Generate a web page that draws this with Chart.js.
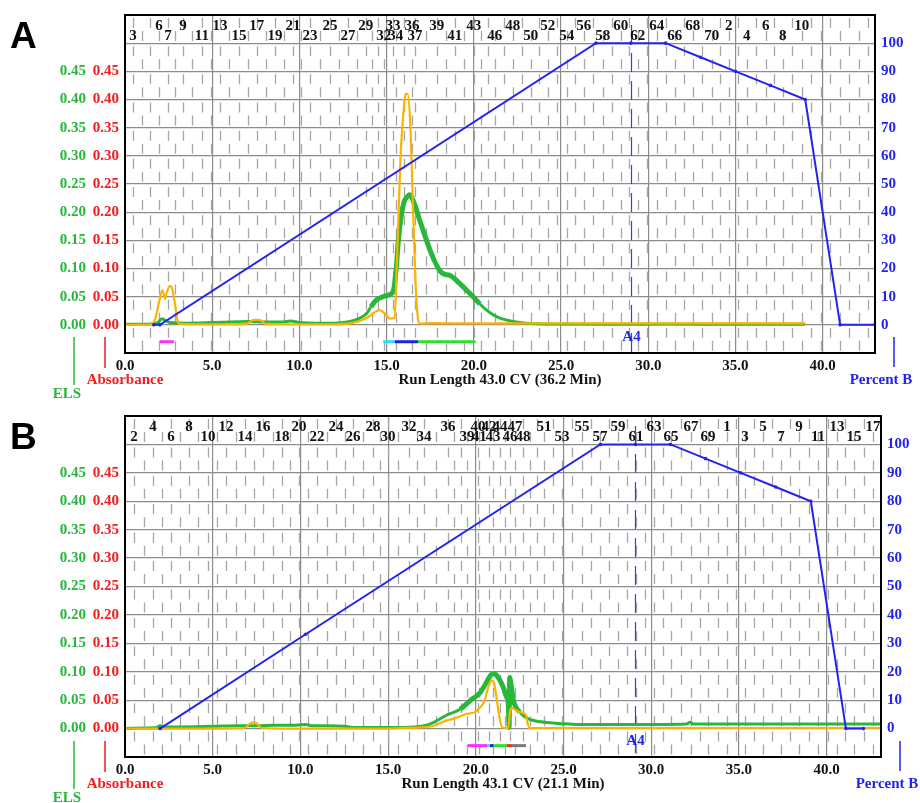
<!DOCTYPE html>
<html>
<head>
<meta charset="utf-8">
<script src="https://cdn.jsdelivr.net/npm/chart.js@4.4.0/dist/chart.umd.min.js"></script>
<style>
  html, body { margin: 0; padding: 0; background: #fff; }
  canvas { display: block; }
</style>
</head>
<body>
<canvas id="chartA" width="920" height="401"></canvas>
<canvas id="chartB" width="920" height="402"></canvas>
<script>
// ---- Panel A : run length 43.0 CV ----
const elsA_cv = [0, 1.0, 1.6, 1.9, 2.1, 2.3, 2.6, 3.5, 5.0, 6.0, 7.0, 8.0, 9.0, 9.5, 10.0, 11.0, 12.0, 12.9, 13.4, 13.85,
  14.1, 14.4, 14.8, 15.2, 15.4, 15.55, 15.67, 15.85, 16.0, 16.14, 16.33, 16.6, 16.85, 17.1, 17.57, 18.05, 18.3, 18.62,
  19.2, 19.6, 19.96, 20.35, 20.73, 21.1, 21.5, 22.25, 23.0, 25.0, 28.0, 31.0, 35.0, 39.0];
const elsA_v = [0.001, 0.001, 0.002, 0.004, 0.011, 0.008, 0.004, 0.003, 0.004, 0.005, 0.006, 0.005, 0.005, 0.007, 0.004,
  0.003, 0.003, 0.006, 0.011, 0.02, 0.032, 0.044, 0.05, 0.054, 0.062, 0.1, 0.149, 0.196, 0.218, 0.226, 0.231, 0.214,
  0.19, 0.167, 0.126, 0.096, 0.09, 0.088, 0.073, 0.061, 0.05, 0.037, 0.026, 0.018, 0.012, 0.006, 0.003, 0.0015, 0.001,
  0.0015, 0.001, 0.001];
const absA_cv = [0, 1.0, 1.5, 1.75, 1.95, 2.14, 2.22, 2.29, 2.4, 2.58, 2.7, 2.85, 3.0, 3.1, 4.0, 6.0, 7.0, 7.3, 7.5, 7.8,
  8.0, 9.0, 12.0, 13.0, 13.85, 14.3, 14.6, 14.9, 15.2, 15.45, 15.6, 15.8, 15.95, 16.1, 16.2, 16.35, 16.5, 16.65, 16.8,
  16.9, 17.5, 20.0, 25.0, 30.0, 35.0, 39.0];
const absA_v = [0, 0, 0.001, 0.012, 0.04, 0.061, 0.055, 0.046, 0.058, 0.069, 0.064, 0.04, 0.01, 0.002, 0.001, 0.001, 0.002,
  0.008, 0.009, 0.008, 0.002, 0.001, 0.001, 0.003, 0.012, 0.022, 0.026, 0.02, 0.011, 0.012, 0.12, 0.30, 0.372, 0.41, 0.41,
  0.36, 0.22, 0.08, 0.01, 0.002, 0.003, 0.0025, 0.0025, 0.0025, 0.0025, 0.0025];
const gradA_cv = [1.65, 2.0, 27.0, 29.0, 31.0, 33.0, 35.0, 37.0, 39.0, 41.0, 43.0];
const gradA_pct = [0, 0, 100, 100, 100, 95, 90, 85, 80, 0, 0];
const fracA_num = [3, 6, 7, 9, 11, 13, 15, 17, 19, 21, 23, 25, 27, 29, 32, 33, 34, 36, 37, 39, 41, 43, 46, 48, 50, 52,
  54, 56, 58, 60, 62, 64, 66, 68, 70, 2, 4, 6, 8, 10];
const fracA_cv = [0.46, 1.95, 2.46, 3.32, 4.41, 5.44, 6.53, 7.56, 8.60, 9.63, 10.60, 11.75, 12.78, 13.81, 14.84, 15.36,
  15.53, 16.45, 16.62, 17.88, 18.91, 20.0, 21.2, 22.23, 23.27, 24.24, 25.33, 26.30, 27.39, 28.42, 29.40, 30.49, 31.52,
  32.55, 33.64, 34.61, 35.64, 36.73, 37.71, 38.80];
const poolA_from = [2.0, 14.8, 15.45, 16.8];
const poolA_to = [2.8, 15.45, 16.8, 20.1];

// ---- Panel B : run length 43.1 CV ----
const elsB_cv = [0, 1.0, 1.8, 2.0, 2.2, 3.0, 5.0, 6.5, 7.5, 8.5, 9.5, 10.3, 10.7, 11.5, 12.5, 13.0, 15.0, 16.5, 17.2,
  17.6, 18.3, 19.1, 19.67, 20.24, 20.6, 20.85, 21.0, 21.28, 21.57, 21.76, 21.85, 21.9, 21.93, 21.97, 22.15, 22.5, 23.0,
  23.7, 24.8, 25.9, 28.6, 32.0, 32.2, 32.4, 35.0, 38.1, 43.1];
const elsB_v = [0, 0.001, 0.002, 0.005, 0.003, 0.003, 0.004, 0.005, 0.005, 0.006, 0.006, 0.007, 0.005, 0.005, 0.004,
  0.002, 0.002, 0.003, 0.006, 0.011, 0.023, 0.034, 0.049, 0.063, 0.081, 0.094, 0.097, 0.09, 0.072, 0.055, 0.045, 0.002,
  0.09, 0.085, 0.049, 0.029, 0.017, 0.012, 0.009, 0.007, 0.007, 0.008, 0.011, 0.008, 0.008, 0.008, 0.008];
const absB_cv = [0, 2.0, 5.0, 6.8, 7.1, 7.3, 7.55, 7.8, 10.0, 15.0, 15.7, 16.8, 17.6, 18.3, 18.7, 19.5, 19.95, 20.24,
  20.5, 20.7, 20.9, 21.04, 21.2, 21.35, 21.5, 21.85, 21.95, 22.05, 22.2, 22.5, 22.85, 22.95, 23.05, 25.0, 30.0, 35.0, 43.1];
const absB_v = [0, 0, 0, 0.001, 0.008, 0.011, 0.008, 0.001, 0, 0, 0.001, 0.002, 0.005, 0.014, 0.017, 0.026, 0.029, 0.037,
  0.049, 0.072, 0.085, 0.08, 0.05, 0.02, 0.002, 0.001, 0.03, 0.036, 0.034, 0.029, 0.024, 0.01, 0.001, 0.001, 0.001, 0.001,
  0.001];
const gradB_cv = [2.0, 10.3, 27.1, 29.1, 31.1, 33.1, 35.1, 37.1, 39.1, 41.1, 42.1];
const gradB_pct = [0, 33.2, 100, 100, 100, 95, 90, 85, 80, 0, 0];
const fracB_num = [2, 4, 6, 8, 10, 12, 14, 16, 18, 20, 22, 24, 26, 28, 30, 32, 34, 36, 39, 40, 41, 42, 43, 44, 46, 47,
  48, 51, 53, 55, 57, 59, 61, 63, 65, 67, 69, 1, 3, 5, 7, 9, 11, 13, 15, 17];
const fracB_cv = [0.51, 1.60, 2.62, 3.65, 4.73, 5.76, 6.84, 7.87, 8.95, 9.92, 10.95, 12.03, 13.0, 14.14, 14.99, 16.19,
  17.05, 18.42, 19.50, 20.13, 20.2, 20.75, 20.98, 21.38, 21.95, 22.23, 22.69, 23.89, 24.91, 26.05, 27.08, 28.1, 29.13,
  30.16, 31.13, 32.27, 33.24, 34.32, 35.35, 36.37, 37.4, 38.43, 39.51, 40.59, 41.56, 42.65];
const poolB_from = [19.55, 20.65, 20.8, 21.0, 21.78, 22.06];
const poolB_to = [20.65, 20.8, 21.0, 21.78, 22.06, 22.86];

// ---- styling ----
const GREEN = '#27b83a', RED = '#f41c1c', BLUE = '#2323ee', ORANGE = '#fbb300';
const SERIF = '"Liberation Serif", "Times New Roman", serif';
const tickFont = { family: SERIF, size: 15, weight: 'bold' };
const poolColA = ['#ff2cff', '#25e3f2', '#2222dd', '#2ee02e'];
const poolColB = ['#ff2cff', '#25e3f2', '#2222dd', '#2ee02e', '#f02a2a', '#7a7a7a'];

function pts(xs, ys) { return xs.map((x, i) => ({ x: x, y: ys[i] })); }

// fraction tube boundaries between the labelled tubes (tube numbers wrap after 70)
function fractionLines(nums, cvs, xMax) {
  const out = [];
  for (let i = 0; i < nums.length - 1; i++) {
    const k = (nums[i + 1] - nums[i] + 70) % 70;
    for (let j = 0; j < k; j++) out.push(cvs[i] + (cvs[i + 1] - cvs[i]) * j / k);
  }
  const n = nums.length;
  const w = (cvs[n - 1] - cvs[n - 2]) / ((nums[n - 1] - nums[n - 2] + 70) % 70);
  for (let c = cvs[n - 1]; c < xMax; c += w) out.push(c);
  return out;
}

const decor = {
  id: 'decor',
  beforeDatasetsDraw(chart, args, p) {
    const { ctx, chartArea: a, scales } = chart;
    const xs = scales.x, ys = scales.yAbs;
    const step = ys.getPixelForValue(0) - ys.getPixelForValue(0.05);
    ctx.save();
    ctx.beginPath();
    ctx.rect(a.left, a.top, a.right - a.left, a.bottom - a.top);
    ctx.clip();
    ctx.strokeStyle = '#a6a6a6';
    ctx.lineWidth = 1.3;
    fractionLines(p.fracNum, p.fracCv, p.xMax).forEach((cv, i) => {
      const px = Math.round(xs.getPixelForValue(cv)) + 0.5;
      ctx.setLineDash([10, step - 10]);
      ctx.lineDashOffset = (i % 2) ? step - 16 : step - 3;
      ctx.beginPath();
      ctx.moveTo(px, a.top);
      ctx.lineTo(px, a.bottom);
      ctx.stroke();
    });
    // A4 marker
    const ax = Math.round(xs.getPixelForValue(p.a4)) + 0.5;
    ctx.strokeStyle = '#3b3bf5';
    ctx.lineWidth = 1.2;
    ctx.setLineDash([19, 9]);
    ctx.lineDashOffset = 0;
    ctx.beginPath();
    ctx.moveTo(ax, a.top + 10);
    ctx.lineTo(ax, a.bottom);
    ctx.stroke();
    ctx.setLineDash([]);
    ctx.fillStyle = BLUE;
    ctx.font = 'bold 15px ' + SERIF;
    ctx.textAlign = 'center';
    ctx.fillText('A4', ax, a.bottom - 12);
    // fraction labels, alternating rows
    ctx.fillStyle = '#111';
    p.fracNum.forEach((n, i) => {
      const px = xs.getPixelForValue(p.fracCv[i]);
      ctx.fillText(String(n), px, a.top + (i % 2 ? 15 : 25));
    });
    ctx.restore();
  },
  afterDraw(chart, args, p) {
    const { ctx, chartArea: a } = chart;
    ctx.save();
    ctx.setLineDash([]);
    ctx.strokeStyle = '#000';
    ctx.lineWidth = 2;
    ctx.strokeRect(a.left, a.top, a.right - a.left, a.bottom - a.top);
    ctx.fillStyle = '#000';
    ctx.font = 'bold 37px "Liberation Sans", Arial, sans-serif';
    ctx.textAlign = 'left';
    ctx.fillText(p.letter, 10, 48);
    ctx.font = 'bold 15px ' + SERIF;
    ctx.textAlign = 'center';
    ctx.fillStyle = '#111';
    ctx.fillText(p.title, (a.left + a.right) / 2, a.bottom + 31);
    ctx.fillStyle = RED;
    ctx.fillText('Absorbance', a.left, a.bottom + 31);
    ctx.fillStyle = GREEN;
    ctx.fillText('ELS', a.left - 58, a.bottom + 45);
    ctx.fillStyle = BLUE;
    ctx.fillText('Percent B', a.right + 6, a.bottom + 31);
    ctx.lineWidth = 1.5;
    ctx.strokeStyle = RED;
    ctx.beginPath(); ctx.moveTo(a.left - 20, a.bottom - 16); ctx.lineTo(a.left - 20, a.bottom + 15); ctx.stroke();
    ctx.strokeStyle = GREEN;
    ctx.beginPath(); ctx.moveTo(a.left - 51, a.bottom - 16); ctx.lineTo(a.left - 51, a.bottom + 32); ctx.stroke();
    ctx.strokeStyle = BLUE;
    ctx.beginPath(); ctx.moveTo(a.right + 19, a.bottom - 16); ctx.lineTo(a.right + 19, a.bottom + 14); ctx.stroke();
    ctx.restore();
  }
};

function makePanel(id, p) {
  const H = document.getElementById(id).height;
  const datasets = [
    { label: 'Percent B', data: pts(p.gradCv, p.gradPct), yAxisID: 'yB', showLine: true,
      borderColor: BLUE, borderWidth: 2, pointRadius: 1.8, pointBackgroundColor: BLUE, pointBorderWidth: 0 },
    { label: 'Absorbance', data: pts(p.absCv, p.absV), yAxisID: 'yAbs', showLine: true,
      borderColor: ORANGE, borderWidth: 2.2, pointRadius: 0, cubicInterpolationMode: 'monotone' },
    { label: 'ELS', data: pts(p.elsCv, p.elsV), yAxisID: 'yEls', showLine: true,
      borderColor: GREEN, borderWidth: 3, pointRadius: 0, cubicInterpolationMode: 'monotone',
      // the detector trace is noisy (wider band) on the peaks
      segment: { borderWidth: c => Math.max(c.p0.parsed.y, c.p1.parsed.y) > 0.04 ? 5 : 3 } }
  ];
  p.poolFrom.forEach((f, i) => {
    datasets.push({ label: 'pool ' + i, data: [{ x: f, y: -0.03 }, { x: p.poolTo[i], y: -0.03 }], yAxisID: 'yAbs',
      showLine: true, borderColor: p.poolCol[i], borderWidth: 3, pointRadius: 0, borderCapStyle: 'butt' });
  });
  const yTicks = v => (v > -0.001 && v < 0.46) ? (Math.abs(v) < 1e-9 ? '0.00' : v.toFixed(2)) : '';
  return new Chart(document.getElementById(id), {
    type: 'scatter',
    data: { datasets: datasets },
    plugins: [decor],
    options: {
      responsive: false,
      animation: false,
      events: [],
      layout: { padding: { left: 50, right: 0, top: 12, bottom: 0 } },
      plugins: { legend: { display: false }, tooltip: { enabled: false }, decor: p },
      scales: {
        x: {
          type: 'linear', position: 'bottom', min: 0, max: p.xMax,
          afterFit: s => { s.height = H - p.bottom; },
          border: { display: false },
          grid: { drawTicks: false, lineWidth: 1.2,
            color: c => (c.tick && c.tick.value > 0.1) ? '#8c8c8c' : 'rgba(0,0,0,0)' },
          ticks: { stepSize: 5, includeBounds: false, padding: 4, maxRotation: 0, autoSkip: false,
            color: '#111', font: tickFont, callback: v => v.toFixed(1) }
        },
        yAbs: {
          type: 'linear', position: 'left', weight: 0, min: -0.05, max: 0.55,
          afterFit: s => { s.width = 37; },
          border: { display: false },
          grid: { drawTicks: false, lineWidth: 1.3,
            color: c => (c.tick && c.tick.value > -0.01 && c.tick.value < 0.51) ? '#8c8c8c' : 'rgba(0,0,0,0)' },
          ticks: { stepSize: 0.05, padding: 6, color: RED, font: tickFont, callback: yTicks }
        },
        yEls: {
          type: 'linear', position: 'left', weight: 1, min: -0.05, max: 0.55,
          afterFit: s => { s.width = 38; },
          border: { display: false },
          grid: { display: false, drawTicks: false },
          ticks: { stepSize: 0.05, padding: 2, color: GREEN, font: tickFont, callback: yTicks }
        },
        yB: {
          type: 'linear', position: 'right', min: -10, max: 110,
          afterFit: s => { s.width = p.rightW; },
          border: { display: false },
          grid: { display: false, drawTicks: false },
          ticks: { stepSize: 10, padding: 6, color: BLUE, font: tickFont,
            callback: v => (v > -1 && v < 101) ? String(v) : '' }
        }
      }
    }
  });
}

makePanel('chartA', {
  letter: 'A', title: 'Run Length 43.0 CV (36.2 Min)', xMax: 43.0, bottom: 353, rightW: 45, a4: 29.0,
  elsCv: elsA_cv, elsV: elsA_v, absCv: absA_cv, absV: absA_v, gradCv: gradA_cv, gradPct: gradA_pct,
  fracNum: fracA_num, fracCv: fracA_cv, poolFrom: poolA_from, poolTo: poolA_to, poolCol: poolColA
});
makePanel('chartB', {
  letter: 'B', title: 'Run Length 43.1 CV (21.1 Min)', xMax: 43.1, bottom: 356, rightW: 39, a4: 29.1,
  elsCv: elsB_cv, elsV: elsB_v, absCv: absB_cv, absV: absB_v, gradCv: gradB_cv, gradPct: gradB_pct,
  fracNum: fracB_num, fracCv: fracB_cv, poolFrom: poolB_from, poolTo: poolB_to, poolCol: poolColB
});
</script>
</body>
</html>
